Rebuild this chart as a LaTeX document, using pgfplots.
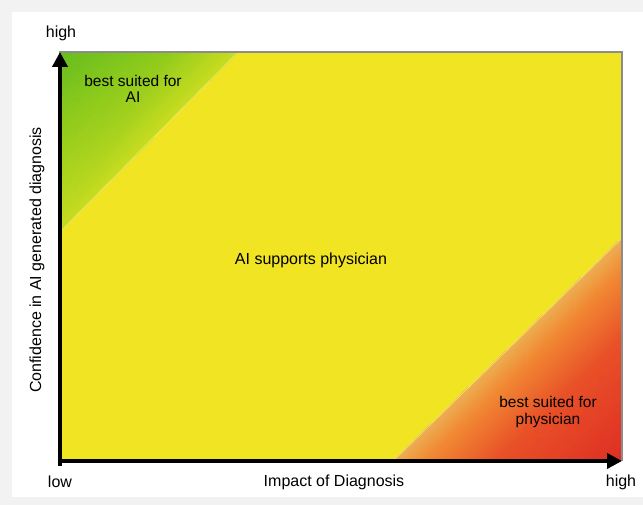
\documentclass[border=0pt]{standalone}
\usepackage{pgfplots}
\pgfplotsset{compat=1.18}
\usepackage{fontspec}
\setmainfont{Liberation Sans}
\usetikzlibrary{arrows.meta}
\definecolor{ylw}{RGB}{240,228,35}
\definecolor{bggray}{RGB}{242,242,242}
\definecolor{g0}{RGB}{200,220,32}
\definecolor{g1}{RGB}{142,202,28}
\definecolor{g2}{RGB}{100,188,30}
\definecolor{r0}{RGB}{237,175,80}
\definecolor{r1}{RGB}{241,135,50}
\definecolor{r2}{RGB}{232,80,40}
\definecolor{r3}{RGB}{222,45,35}
\definecolor{frame}{RGB}{140,140,140}
\begin{document}
\begin{tikzpicture}
\fill[bggray] (-60pt,-44pt) rectangle (583pt,461pt);
\fill[white] (-48pt,-36pt) rectangle (583pt,449pt);
\begin{axis}[
  at={(0pt,0pt)}, anchor=origin,
  scale only axis, width=562pt, height=409pt,
  xmin=0, xmax=1, ymin=0, ymax=1,
  xtick=\empty, ytick=\empty,
  axis lines=none,
  clip=false,
]
% yellow background
\addplot[draw=none, fill=ylw] coordinates {(0,0) (1,0) (1,1) (0,1)} -- cycle;
% green triangle (top-left), strips parallel to the diagonal
\addplot[patch, shader=interp, mesh/color input=explicit] table[meta=c] {
x y c
0.317 1 color=g0
0 0.56 color=g0
0.1902 1 color=g1
0 0.56 color=g0
0 0.824 color=g1
0.1902 1 color=g1
0.1902 1 color=g1
0 0.824 color=g1
0 1 color=g2
};
% red triangle (bottom-right), strips parallel to the diagonal
\addplot[patch, shader=interp, mesh/color input=explicit] table[meta=c] {
x y c
0.5925 0 color=r0
1 0.545 color=r0
0.6536 0 color=r1
1 0.545 color=r0
1 0.4633 color=r1
0.6536 0 color=r1
0.6536 0 color=r1
1 0.4633 color=r1
0.7759 0 color=r2
1 0.4633 color=r1
1 0.2998 color=r2
0.7759 0 color=r2
0.7759 0 color=r2
1 0.2998 color=r2
1 0 color=r3
};
% faint diagonal seams
\addplot[draw=ylw!55!white, line width=0.8pt, opacity=0.7] coordinates {(0,0.56) (0.317,1)};
\addplot[draw=ylw!55!white, line width=0.8pt, opacity=0.7] coordinates {(0.5925,0) (1,0.545)};
% thin frame top and right
\addplot[draw=frame, line width=1.2pt] coordinates {(0,1) (1,1) (1,0)};
% axis arrows
\addplot[black, line width=4pt, -{Triangle[length=15pt,width=15pt]}] coordinates {(-0.003,0) (1,0)};
\addplot[black, line width=4pt, -{Triangle[length=15pt,width=15pt]}] coordinates {(0,-0.013) (0,1)};
\end{axis}
\begin{scope}[every node/.style={font=\fontsize{16}{18}\selectfont, inner sep=0pt}]
\node at (1pt,428pt) {high};
\node[rotate=90] at (-23pt,201pt) {Confidence in AI generated diagnosis};
\node at (0pt,-21pt) {low};
\node at (274pt,-21pt) {Impact of Diagnosis};
\node at (561pt,-21pt) {high};
\node at (251pt,201pt) {AI supports physician};
\end{scope}
\begin{scope}[every node/.style={font=\fontsize{15.5}{16.5}\selectfont, inner sep=0pt, align=center}]
\node at (73pt,372pt) {best suited for\\AI};
\node at (488pt,49pt) {best suited for\\physician};
\end{scope}
\end{tikzpicture}
\end{document}
